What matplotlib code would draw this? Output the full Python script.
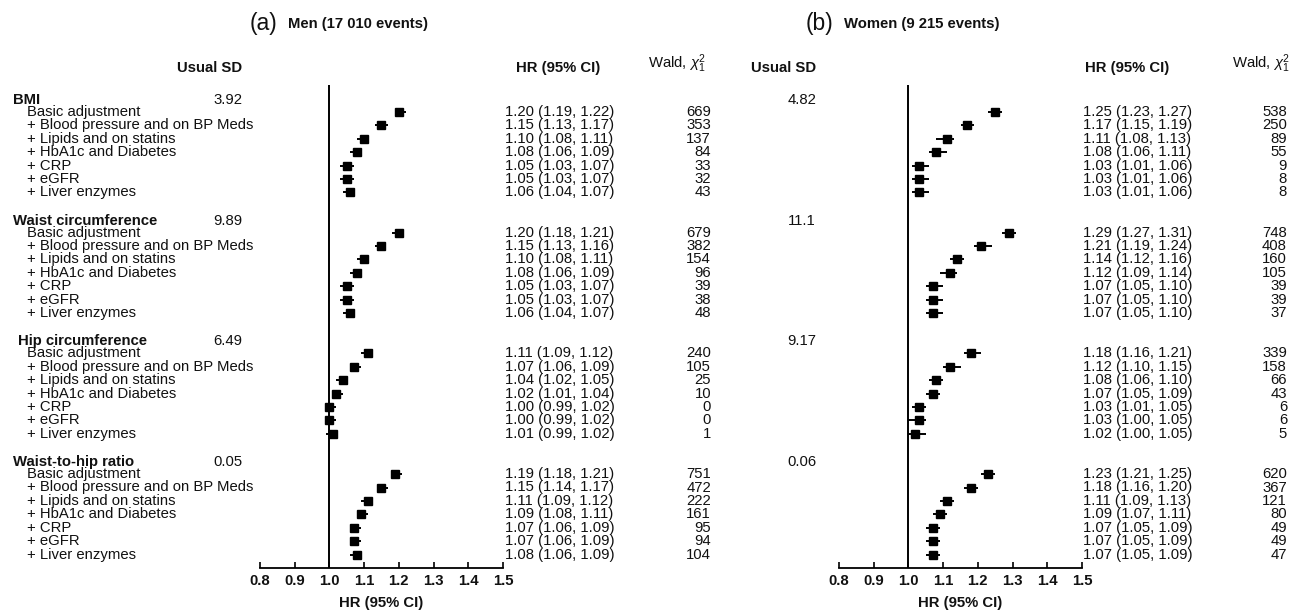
import numpy as np
import matplotlib
matplotlib.use("Agg")
import matplotlib.pyplot as plt
from matplotlib.transforms import blended_transform_factory

plt.rcParams["font.family"] = ["Liberation Sans", "DejaVu Sans"]
plt.rcParams["mathtext.fontset"] = "custom"
plt.rcParams["mathtext.rm"] = "Liberation Sans"
plt.rcParams["mathtext.it"] = "Liberation Sans:italic"

groups = ["BMI", "Waist circumference", "Hip circumference", "Waist-to-hip ratio"]
models = ["Basic adjustment", "+ Blood pressure and on BP Meds", "+ Lipids and on statins",
          "+ HbA1c and Diabetes", "+ CRP", "+ eGFR", "+ Liver enzymes"]

men_sd = ["3.92", "9.89", "6.49", "0.05"]
men_hr = [[1.20, 1.15, 1.10, 1.08, 1.05, 1.05, 1.06],
          [1.20, 1.15, 1.10, 1.08, 1.05, 1.05, 1.06],
          [1.11, 1.07, 1.04, 1.02, 1.00, 1.00, 1.01],
          [1.19, 1.15, 1.11, 1.09, 1.07, 1.07, 1.08]]
men_lo = [[1.19, 1.13, 1.08, 1.06, 1.03, 1.03, 1.04],
          [1.18, 1.13, 1.08, 1.06, 1.03, 1.03, 1.04],
          [1.09, 1.06, 1.02, 1.01, 0.99, 0.99, 0.99],
          [1.18, 1.14, 1.09, 1.08, 1.06, 1.06, 1.06]]
men_hi = [[1.22, 1.17, 1.11, 1.09, 1.07, 1.07, 1.07],
          [1.21, 1.16, 1.11, 1.09, 1.07, 1.07, 1.07],
          [1.12, 1.09, 1.05, 1.04, 1.02, 1.02, 1.02],
          [1.21, 1.17, 1.12, 1.11, 1.09, 1.09, 1.09]]
men_wald = [[669, 353, 137, 84, 33, 32, 43],
            [679, 382, 154, 96, 39, 38, 48],
            [240, 105, 25, 10, 0, 0, 1],
            [751, 472, 222, 161, 95, 94, 104]]

women_sd = ["4.82", "11.1", "9.17", "0.06"]
women_hr = [[1.25, 1.17, 1.11, 1.08, 1.03, 1.03, 1.03],
            [1.29, 1.21, 1.14, 1.12, 1.07, 1.07, 1.07],
            [1.18, 1.12, 1.08, 1.07, 1.03, 1.03, 1.02],
            [1.23, 1.18, 1.11, 1.09, 1.07, 1.07, 1.07]]
women_lo = [[1.23, 1.15, 1.08, 1.06, 1.01, 1.01, 1.01],
            [1.27, 1.19, 1.12, 1.09, 1.05, 1.05, 1.05],
            [1.16, 1.10, 1.06, 1.05, 1.01, 1.00, 1.00],
            [1.21, 1.16, 1.09, 1.07, 1.05, 1.05, 1.05]]
women_hi = [[1.27, 1.19, 1.13, 1.11, 1.06, 1.06, 1.06],
            [1.31, 1.24, 1.16, 1.14, 1.10, 1.10, 1.10],
            [1.21, 1.15, 1.10, 1.09, 1.05, 1.05, 1.05],
            [1.25, 1.20, 1.13, 1.11, 1.09, 1.09, 1.09]]
women_wald = [[538, 250, 89, 55, 9, 8, 8],
              [748, 408, 160, 105, 39, 39, 37],
              [339, 158, 66, 43, 6, 6, 5],
              [620, 367, 121, 80, 49, 49, 47]]

xticks = [0.8, 0.9, 1.0, 1.1, 1.2, 1.3, 1.4, 1.5]

W, H = 1291, 611
FS = 10.7
INK = "#111111"
header_x = [13, 13, 18, 13]

fig = plt.figure(figsize=(W / 100, H / 100), dpi=100)


def px(x):
    return x / W


def draw_panel(ax, hr, lo, hi, wald, sd, cols, letter, title, row_labels):
    tr = blended_transform_factory(fig.transFigure, ax.transData)
    for g in range(len(groups)):
        y = np.arange(7) + 9 * g
        h = np.array(hr[g])
        l = np.array(lo[g])
        u = np.array(hi[g])
        ax.errorbar(h, y, xerr=[h - l, u - h], fmt="s", color="black", ms=6.3,
                    elinewidth=1.4, capsize=0, clip_on=False)
        yh = 9 * g - 0.9
        if row_labels:
            ax.text(px(header_x[g]), yh, groups[g], transform=tr, fontsize=FS,
                    fontweight="bold", va="center", ha="left", color=INK)
            for i in range(7):
                ax.text(px(27), y[i], models[i], transform=tr, fontsize=FS,
                        va="center", ha="left", color=INK)
        ax.text(px(cols["sd"]), yh, sd[g], transform=tr, fontsize=FS,
                va="center", ha="right", color=INK)
        for i in range(7):
            ax.text(px(cols["hr"]), y[i], "%.2f (%.2f, %.2f)" % (h[i], l[i], u[i]),
                    transform=tr, fontsize=FS, va="center", ha="left", color=INK)
            ax.text(px(cols["wald"]), y[i], str(wald[g][i]), transform=tr,
                    fontsize=FS, va="center", ha="right", color=INK)

    ax.text(px(cols["sd"]), -3.3, "Usual SD", transform=tr, fontsize=FS,
            fontweight="bold", va="center", ha="right", color=INK)
    ax.text(px(cols["hr_head"]), -3.3, "HR (95% CI)", transform=tr, fontsize=FS,
            fontweight="bold", va="center", ha="center", color=INK)
    ax.text(px(cols["wald_head"]), -3.6, r"Wald, $\chi^2_1$", transform=tr,
            fontsize=FS, va="center", ha="left", color=INK)
    ax.text(px(cols["letter"]), -6.55, letter, transform=tr, fontsize=16.5,
            va="center", ha="left", color=INK)
    ax.text(px(cols["letter"] + 38), -6.55, title, transform=tr, fontsize=FS,
            fontweight="bold", va="center", ha="left", color=INK)

    ax.axvline(1.0, color="black", lw=1.4)
    ax.set_xlim(0.8, 1.5)
    ax.set_ylim(34, -2)
    for s in ["left", "right", "top"]:
        ax.spines[s].set_visible(False)
    ax.spines["bottom"].set_linewidth(1.3)
    ax.set_yticks([])
    ax.set_xticks(xticks)
    ax.set_xticklabels(["%.1f" % t for t in xticks], fontweight="bold", fontsize=FS, color=INK)
    ax.tick_params(axis="x", direction="in", length=4, width=1.2, pad=4)
    ax.set_xlabel("HR (95% CI)", fontweight="bold", fontsize=FS, color=INK, labelpad=6)
    ax.patch.set_visible(False)


ax1 = fig.add_axes([px(260), 1 - 568 / H, px(243), (568 - 85) / H])
ax2 = fig.add_axes([px(839), 1 - 568 / H, px(243), (568 - 85) / H])

draw_panel(ax1, men_hr, men_lo, men_hi, men_wald, men_sd,
           {"sd": 242, "hr": 505, "wald": 711, "hr_head": 558, "wald_head": 648, "letter": 250},
           "(a)", "Men (17 010 events)", True)
draw_panel(ax2, women_hr, women_lo, women_hi, women_wald, women_sd,
           {"sd": 816, "hr": 1083, "wald": 1287, "hr_head": 1127, "wald_head": 1232, "letter": 806},
           "(b)", "Women (9 215 events)", False)

fig.savefig("out.png", dpi=100)
